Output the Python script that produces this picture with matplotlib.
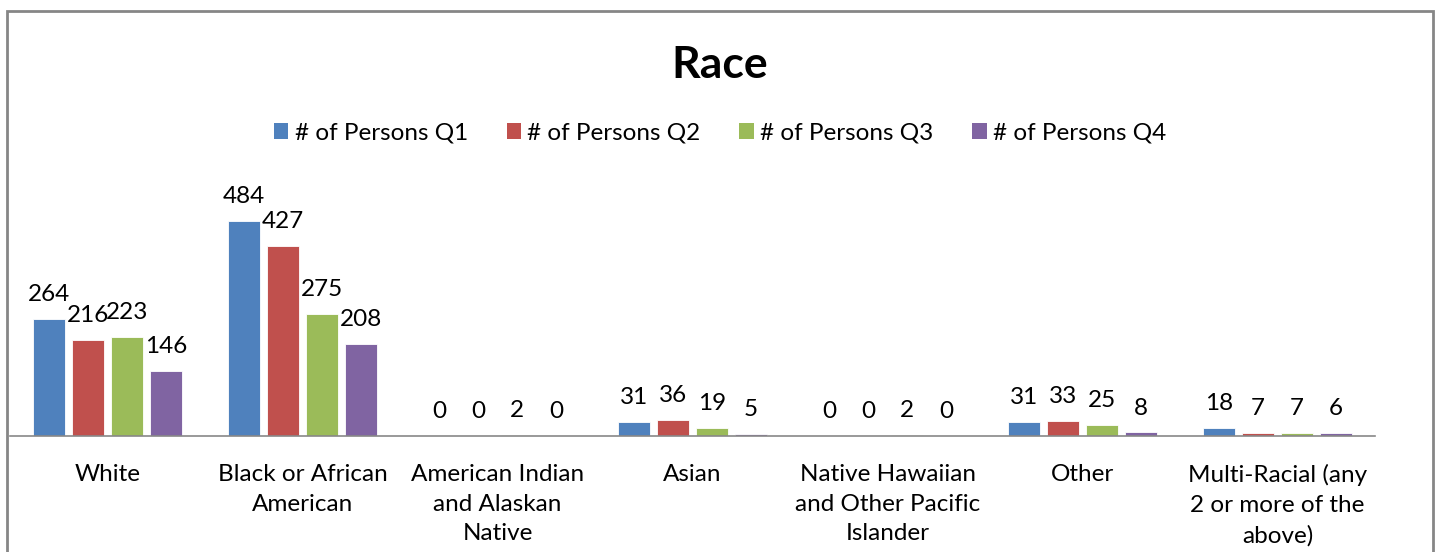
import matplotlib.pyplot as plt
from matplotlib.patches import Patch, Rectangle
import numpy as np

plt.rcParams['font.family'] = ['Lato', 'DejaVu Sans']

categories = ['White', 'Black or African\nAmerican', 'American Indian\nand Alaskan\nNative', 'Asian',
              'Native Hawaiian\nand Other Pacific\nIslander', 'Other',
              'Multi-Racial (any\n2 or more of the\nabove)']
series_names = ['# of Persons Q1', '# of Persons Q2', '# of Persons Q3', '# of Persons Q4']
q1 = [264, 484, 0, 31, 0, 31, 18]
q2 = [216, 427, 0, 36, 0, 33, 7]
q3 = [223, 275, 2, 19, 2, 25, 7]
q4 = [146, 208, 0, 5, 0, 8, 6]
colors = ['#4F81BD', '#C0504D', '#9BBB59', '#8064A2']

fig = plt.figure(figsize=(14.4, 5.52), dpi=100)
ax = fig.add_axes([10/1440, 116/552, 1365/1440, 266.5/552])

x = np.arange(len(categories))
step = 0.2
width = 0.164
for i, vals in enumerate([q1, q2, q3, q4]):
    pos = x + (i - 1.5) * step
    bars = ax.bar(pos, vals, width, color=colors[i], edgecolor='white', linewidth=0.6)
    for b, v in zip(bars, vals):
        ax.annotate(str(v), (b.get_x() + b.get_width() / 2, v), xytext=(0, 10),
                    textcoords='offset points', ha='center', va='bottom', fontsize=17.5)

ax.set_xlim(-0.5, len(categories) - 0.5)
ax.set_ylim(0, 600)
ax.set_yticks([])
ax.set_xticks(x)
ax.set_xticklabels(categories, fontsize=17.5, linespacing=1.52)
ax.tick_params(axis='x', length=0, pad=20)
for s in ['top', 'right', 'left']:
    ax.spines[s].set_visible(False)
ax.spines['bottom'].set_color('#888888')
ax.spines['bottom'].set_linewidth(1.2)

fig.text(0.5, (552 - 65) / 552, 'Race', ha='center', va='center', fontsize=32, fontweight='bold')

handles = [Patch(facecolor=c, edgecolor='none') for c in colors]
fig.legend(handles, series_names, loc='center', bbox_to_anchor=(0.5, (552 - 133) / 552), ncol=4,
           frameon=False, fontsize=17.5, handlelength=0.6, handleheight=0.6, handletextpad=0.25,
           columnspacing=1.6)

border = Rectangle((7/1440, -0.1), 1426/1440, 1.1 - 11/552, transform=fig.transFigure,
                   fill=False, edgecolor='#868686', linewidth=2, clip_on=False)
fig.patches.append(border)

fig.savefig('out.png', dpi=100)
